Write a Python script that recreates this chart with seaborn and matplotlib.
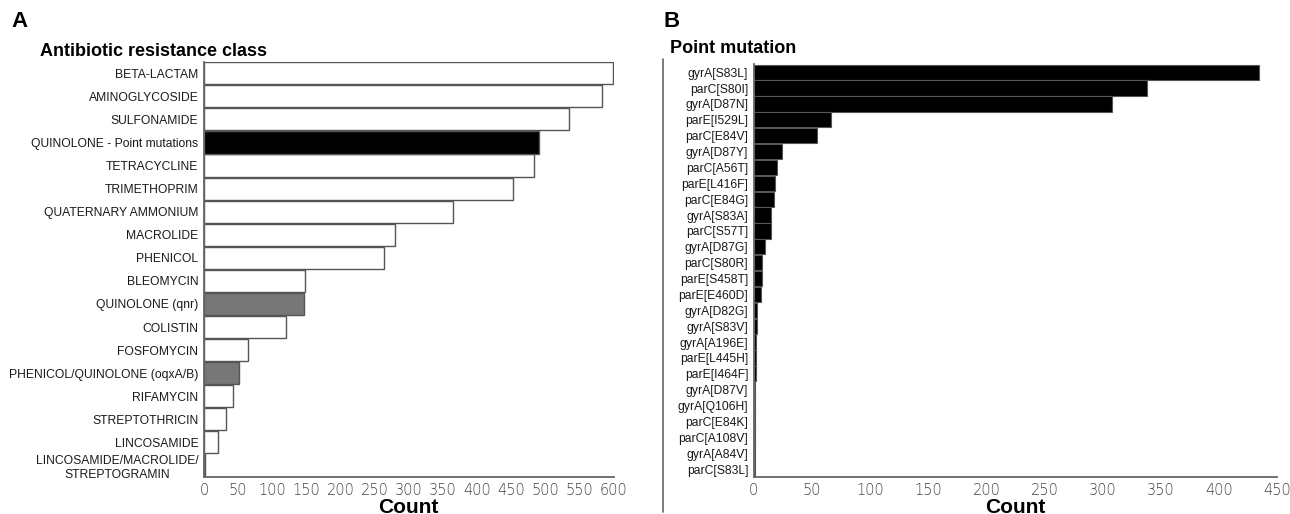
import matplotlib
matplotlib.use("Agg")
import matplotlib.pyplot as plt
import seaborn as sns
import pandas as pd
from matplotlib.lines import Line2D

# Painel A: classes de resistência
classes = ["BETA-LACTAM", "AMINOGLYCOSIDE", "SULFONAMIDE", "QUINOLONE - Point mutations",
           "TETRACYCLINE", "TRIMETHOPRIM", "QUATERNARY AMMONIUM", "MACROLIDE", "PHENICOL",
           "BLEOMYCIN", "QUINOLONE (qnr)", "COLISTIN", "FOSFOMYCIN",
           "PHENICOL/QUINOLONE (oqxA/B)", "RIFAMYCIN", "STREPTOTHRICIN", "LINCOSAMIDE",
           "LINCOSAMIDE/MACROLIDE/\nSTREPTOGRAMIN"]
class_counts = [599, 583, 535, 490, 484, 453, 364, 280, 264, 148, 146, 120, 65, 51, 43, 32, 21, 1]
class_kind = ["other", "other", "other", "point", "other", "other", "other", "other", "other",
              "other", "quinolone", "other", "other", "quinolone", "other", "other", "other", "other"]

# Painel B: mutações pontuais
mutations = ["gyrA[S83L]", "parC[S80I]", "gyrA[D87N]", "parE[I529L]", "parC[E84V]", "gyrA[D87Y]",
             "parC[A56T]", "parE[L416F]", "parC[E84G]", "gyrA[S83A]", "parC[S57T]", "gyrA[D87G]",
             "parC[S80R]", "parE[S458T]", "parE[E460D]", "gyrA[D82G]", "gyrA[S83V]", "gyrA[A196E]",
             "parE[L445H]", "parE[I464F]", "gyrA[D87V]", "gyrA[Q106H]", "parC[E84K]", "parC[A108V]",
             "gyrA[A84V]", "parC[S83L]"]
mutation_counts = [434, 338, 308, 66, 54, 24, 20, 18, 17, 15, 15, 10, 7.5, 7, 6, 3, 3, 2, 2, 2,
                   1, 1, 1, 1, 1, 1]

df_a = pd.DataFrame({"classe": classes, "count": class_counts, "tipo": class_kind})
df_b = pd.DataFrame({"mutacao": mutations, "count": mutation_counts})

cores = {"other": "white", "point": "black", "quinolone": "#777777"}
borda = "#555555"
eixo = "#666666"

sns.set_style("white")
plt.rcParams["font.family"] = ["Liberation Sans", "DejaVu Sans"]
plt.rcParams["text.color"] = "black"
plt.rcParams["axes.labelcolor"] = "black"

fig = plt.figure(figsize=(12.9, 5.14), dpi=100)
ax_a = fig.add_axes([0.1581, 0.072, 0.3176, 0.808])
ax_b = fig.add_axes([0.5843, 0.072, 0.406, 0.803])

sns.barplot(data=df_a, x="count", y="classe", hue="tipo", palette=cores, legend=False,
            saturation=1, width=0.96, edgecolor=borda, linewidth=1, ax=ax_a)
sns.barplot(data=df_b, x="count", y="mutacao", color="black", saturation=1, width=0.96,
            edgecolor=borda, linewidth=0.8, ax=ax_b)

ax_a.set_xlim(0, 600)
ax_a.set_xticks(range(0, 601, 50))
ax_a.set_ylim(len(classes) - 0.5, -0.5)
ax_b.set_xlim(0, 450)
ax_b.set_xticks(range(0, 451, 50))
ax_b.set_ylim(len(mutations) - 0.5, -0.5)

for ax in (ax_a, ax_b):
    sns.despine(ax=ax)
    for s in ("left", "bottom"):
        ax.spines[s].set_color(eixo)
        ax.spines[s].set_linewidth(1.3)
    ax.set_ylabel("")
    ax.set_xlabel("Count", fontsize=15, fontweight="bold", labelpad=0)
    ax.tick_params(axis="x", length=4, width=1, color=eixo, pad=0, labelsize=10.5,
                   labelcolor="#444444")
    ax.tick_params(axis="y", length=3, width=1, color="#333333", pad=1, labelsize=8.7,
                   labelcolor="#1a1a1a")
    for t in ax.get_xticklabels():
        t.set_family(["DejaVu Sans"])
        t.set_fontweight("light")

for t in ax_a.get_yticklabels():
    t.set_multialignment("center")

fig.text(0.031, 0.892, "Antibiotic resistance class", fontsize=13, fontweight="bold", va="baseline")
fig.text(0.519, 0.897, "Point mutation", fontsize=13, fontweight="bold", va="baseline")
fig.text(0.009, 0.948, "A", fontsize=16, fontweight="bold", va="baseline")
fig.text(0.514, 0.948, "B", fontsize=16, fontweight="bold", va="baseline")

fig.add_artist(Line2D([0.514, 0.514], [0.004, 0.885], color=eixo, linewidth=1.2))

fig.savefig("out.png", dpi=100)
plt.close(fig)
